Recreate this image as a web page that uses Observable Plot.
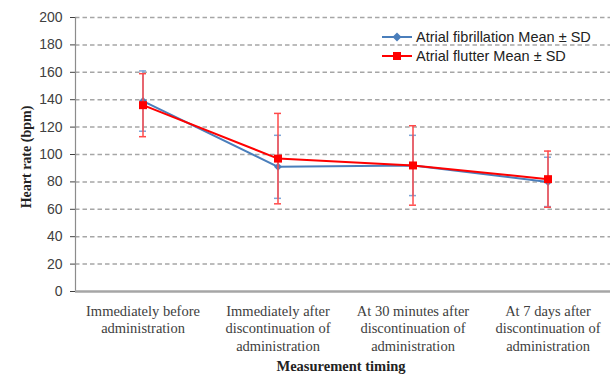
<!DOCTYPE html>
<html>
<head>
<meta charset="utf-8">
<script src="https://cdn.jsdelivr.net/npm/d3@7"></script>
<script src="https://cdn.jsdelivr.net/npm/@observablehq/plot@0.6"></script>
<style>
  body { margin: 0; background: white; }
  #wrap { position: relative; width: 610px; height: 375px; overflow: hidden; background: white; }
  #chart { position: absolute; left: 0; top: 0; }
  .ytitle { position: absolute; left: 27px; top: 157px; transform: translate(-50%, -50%) rotate(-90deg);
    font: bold 14px "Liberation Serif", serif; color: #222; white-space: nowrap; }
  .xtitle { position: absolute; left: 341px; top: 366px; transform: translate(-50%, -50%);
    font: bold 14.5px "Liberation Serif", serif; color: #222; white-space: nowrap; }
  .legend { position: absolute; left: 382px; top: 27px; font: 14.5px "Liberation Sans", Arial, sans-serif; color: #222; }
  .legend .row { display: flex; align-items: center; height: 19.5px; }
  .legend svg { margin-right: 3px; }
</style>
</head>
<body>
<div id="wrap">
  <div id="chart"></div>
  <div class="ytitle">Heart rate (bpm)</div>
  <div class="xtitle">Measurement timing</div>
  <div class="legend" id="legend"></div>
</div>
<script>
const categories = [
  "Immediately before\nadministration",
  "Immediately after\ndiscontinuation of\nadministration",
  "At 30 minutes after\ndiscontinuation of\nadministration",
  "At 7 days after\ndiscontinuation of\nadministration"
];
const afMean = [139, 91, 92, 80];
const afSD = [22, 23, 22, 18];
const flMean = [136, 97, 92, 82];
const flSD = [23, 33, 29, 20.5];
const yTicks = [0, 20, 40, 60, 80, 100, 120, 140, 160, 180, 200];
const seriesNames = ["Atrial fibrillation Mean \u00b1 SD", "Atrial flutter Mean \u00b1 SD"];

const afRows = categories.map((c, i) => ({cat: c, mean: afMean[i], lo: afMean[i] - afSD[i], hi: afMean[i] + afSD[i]}));
const flRows = categories.map((c, i) => ({cat: c, mean: flMean[i], lo: flMean[i] - flSD[i], hi: flMean[i] + flSD[i]}));

const blue = "#4a7ebb", blueBar = "#7ea6d8";
const red = "#ff0000", redBar = "#ff4a4a";
const capInset = 64;

function series(rows, lineColor, barColor, symbol, r) {
  return [
    Plot.ruleX(rows, {x: "cat", y1: "lo", y2: "hi", stroke: barColor, strokeWidth: 1.5}),
    Plot.tickY(rows, {x: "cat", y: "lo", stroke: barColor, strokeWidth: 1.5, insetLeft: capInset, insetRight: capInset}),
    Plot.tickY(rows, {x: "cat", y: "hi", stroke: barColor, strokeWidth: 1.5, insetLeft: capInset, insetRight: capInset}),
    Plot.line(rows, {x: "cat", y: "mean", stroke: lineColor, strokeWidth: 2}),
    Plot.dot(rows, {x: "cat", y: "mean", symbol, r, fill: lineColor, stroke: "none"})
  ];
}

const chart = Plot.plot({
  width: 610,
  height: 375,
  marginTop: 17,
  marginBottom: 84,
  marginLeft: 75,
  marginRight: 0,
  style: {fontFamily: "Liberation Sans, Arial, sans-serif", fontSize: "14px", color: "#404040", background: "white", overflow: "visible"},
  x: {type: "band", domain: categories, range: [75, 615], padding: 0, axis: null},
  y: {domain: [0, 200], ticks: yTicks, tickSize: 5, tickPadding: 8, label: null},
  marks: [
    Plot.ruleY(yTicks.filter(d => d > 0), {stroke: "#a6a6a6", strokeWidth: 1.5, strokeDasharray: "4.5,3"}),
    Plot.ruleX([categories[0]], {x: d => d, y1: d => 0, y2: d => 200, dx: -67.5, stroke: "#8c8c8c", strokeWidth: 1.2}),
    Plot.ruleY([0], {stroke: "#a6a6a6", strokeWidth: 2.5}),
    Plot.text(categories, {x: d => d, frameAnchor: "bottom", lineAnchor: "top", dy: 12, lineHeight: 1.2,
      fontFamily: "Liberation Serif, serif", fontSize: 14.5, fill: "#404040", textAnchor: "middle"}),
    ...series(afRows, blue, blueBar, "diamond2", 3.6),
    ...series(flRows, red, redBar, "square", 4.5)
  ]
});
document.getElementById("chart").appendChild(chart);

const legend = document.getElementById("legend");
const legendItems = [
  {name: seriesNames[0], color: blue, marker: '<path d="M15 0.5 L19.5 5 L15 9.5 L10.5 5 Z"/>'},
  {name: seriesNames[1], color: red, marker: '<rect x="11" y="1" width="8" height="8"/>'}
];
for (const it of legendItems) {
  const row = document.createElement("div");
  row.className = "row";
  row.innerHTML = `<svg width="31" height="10"><line x1="0" x2="30" y1="5" y2="5" stroke="${it.color}" stroke-width="2"/><g fill="${it.color}">${it.marker}</g></svg><span>${it.name}</span>`;
  legend.appendChild(row);
}
</script>
</body>
</html>
